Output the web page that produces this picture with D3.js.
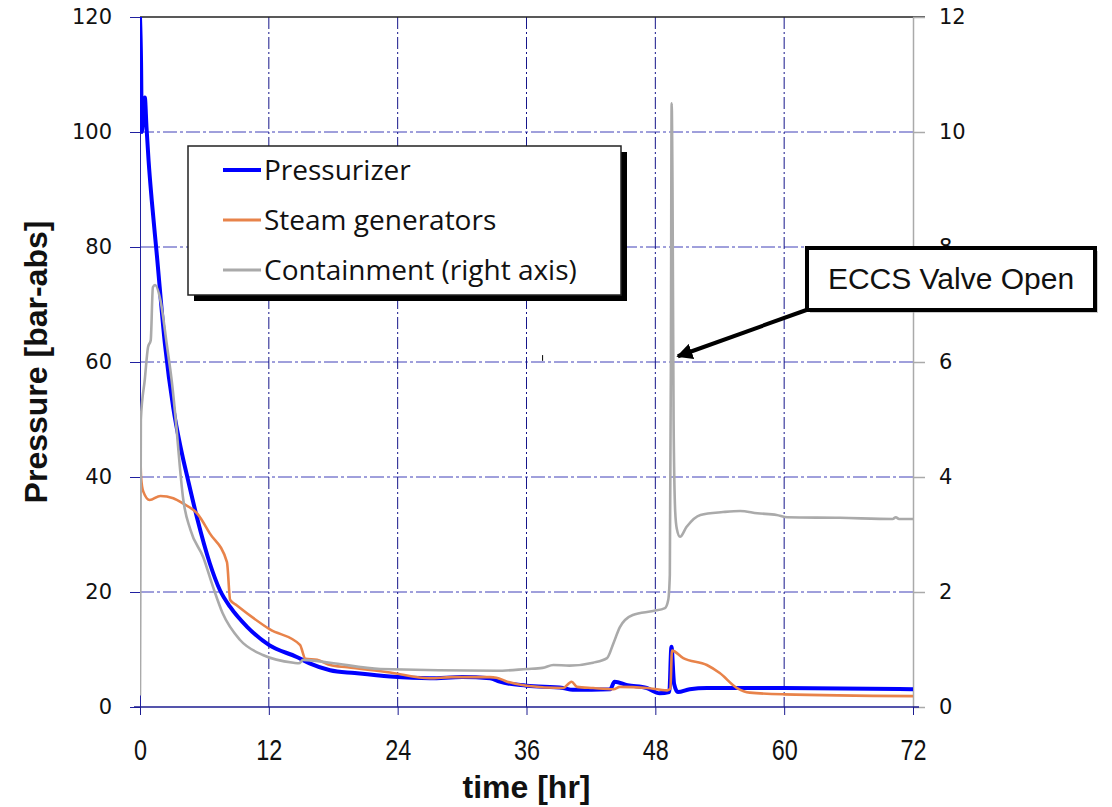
<!DOCTYPE html>
<html>
<head>
<meta charset="utf-8">
<script src="https://cdn.jsdelivr.net/npm/d3@7"></script>
<style>
  body { margin: 0; background: #fff; }
  svg { display: block; }
  .tick-l { font-family: "DejaVu Sans", sans-serif; font-size: 21px; fill: #111; }
  .tick-x { font-family: "Liberation Sans", Arial, sans-serif; font-size: 30px; fill: #111; }
  .title { font-family: "Liberation Sans", Arial, sans-serif; font-size: 32px; font-weight: bold; fill: #111; }
  .legend-text { font-family: "Open Sans", "Liberation Sans", sans-serif; font-size: 28px; fill: #111; }
  .note { font-family: "Liberation Sans", Arial, sans-serif; font-size: 30px; fill: #111; }
</style>
</head>
<body>
<svg id="chart"></svg>
<script>
// values: [time (hr), pressure]
const pressurizer = [
  [0, 120], [0.1, 112], [0.17, 100], [0.3, 103], [0.45, 106], [0.6, 101], [0.8, 95],
  [1.1, 88], [1.55, 79], [2.33, 63], [3.1, 52], [3.8, 45], [4.47, 39.5], [5.3, 33],
  [6.5, 25], [7.45, 20.3], [8.4, 17.4], [10, 13.9], [12, 10.8], [14.6, 8.7], [15.8, 7.6],
  [17.7, 6.4], [20, 5.9], [23.3, 5.3], [27, 5.0], [30, 5.2], [32.6, 5.0], [33.5, 4.4],
  [36, 3.7], [39.4, 3.3], [40.3, 3.0], [43.8, 3.1], [44.2, 4.4], [45.4, 3.8],
  [47.2, 3.3], [48.4, 2.4], [49.3, 2.6], [49.5, 10.5], [49.75, 4.0], [50.1, 2.6],
  [51.2, 3.1], [52.8, 3.3], [60, 3.3], [72, 3.1]
];

const steamGenerators = [
  [0, 48], [0.1, 40], [0.3, 37.5], [0.9, 36], [1.9, 36.7], [3.1, 36.3], [4.0, 35.4],
  [5.3, 33.7], [6.5, 30.2], [8.1, 25.2], [8.4, 18.6], [9.0, 17.7], [12.1, 13.5],
  [14.9, 10.8], [15.4, 8.4], [16.5, 8.2], [17.7, 7.3], [19.3, 6.9], [23.3, 6.0],
  [27, 5.0], [29, 5.2], [32.6, 5.2], [33.2, 5.1], [34.2, 4.4], [36, 3.7], [39.4, 3.3],
  [40.2, 4.4], [40.7, 3.5], [42.2, 3.3], [44.1, 3.1], [44.7, 3.5], [47.2, 3.3],
  [49.1, 2.9], [49.4, 3.2], [49.55, 9.8], [50.6, 8.5], [52.8, 7.3], [54, 5.9],
  [55.6, 3.3], [56.8, 2.5], [60, 2.2], [72, 1.9]
];

// containment, right axis
const containment = [
  [0, 0.2], [0.08, 5.0], [0.45, 5.7], [0.75, 6.26], [1.0, 6.38], [1.2, 7.3], [1.4, 7.34],
  [1.9, 7.08], [2.5, 6.3], [3.0, 5.6], [3.4, 4.85], [3.7, 4.2], [4.0, 3.65], [4.7, 3.08],
  [5.9, 2.6], [6.8, 2.09], [7.7, 1.63], [9.3, 1.17], [11.5, 0.9], [14.3, 0.77],
  [14.8, 0.76], [15.2, 0.82], [17.7, 0.77], [22.4, 0.66], [33.2, 0.63], [36, 0.66],
  [37.5, 0.68], [38.5, 0.73], [40, 0.72], [42.2, 0.77], [43.5, 0.85], [44.1, 1.11],
  [44.7, 1.39], [45.9, 1.6], [47.8, 1.67], [48.9, 1.72], [49.2, 1.86], [49.35, 2.3],
  [49.45, 6], [49.52, 10.5], [49.6, 9], [49.7, 5], [49.85, 3.4], [50.0, 3.1],
  [50.3, 2.96], [50.9, 3.13], [52.2, 3.34], [54.3, 3.39], [55.9, 3.41], [57.5, 3.37],
  [59.3, 3.34], [60.3, 3.3], [65.2, 3.29], [70.1, 3.27], [70.4, 3.3], [70.7, 3.27],
  [72, 3.27]
];

const xTicks = [0, 12, 24, 36, 48, 60, 72];
const yTicks = [0, 20, 40, 60, 80, 100, 120];
const yRightTicks = [0, 2, 4, 6, 8, 10, 12];

const legendItems = [
  {name: 'Pressurizer', color: '#0000ff', width: 4},
  {name: 'Steam generators', color: '#e8834a', width: 3},
  {name: 'Containment (right axis)', color: '#aaaaaa', width: 3}
];

const W = 1112, H = 807;
const margin = {top: 17, right: 199, bottom: 100, left: 140};
const width = W - margin.left - margin.right;
const height = H - margin.top - margin.bottom;

const svg = d3.select('#chart').attr('width', W).attr('height', H);

const x = d3.scaleLinear().domain([0, 72]).range([margin.left, margin.left + width]);
const y = d3.scaleLinear().domain([0, 120]).range([margin.top + height, margin.top]);
const yR = d3.scaleLinear().domain([0, 12]).range([margin.top + height, margin.top]);

svg.append('clipPath').attr('id', 'plot-clip')
  .append('rect')
    .attr('x', margin.left).attr('y', margin.top - 1)
    .attr('width', width).attr('height', height + 2);

// grid
svg.append('g')
  .selectAll('line')
  .data(yTicks.filter(d => d > 0 && d < 120))
  .join('line')
    .attr('x1', margin.left).attr('x2', margin.left + width)
    .attr('y1', d => y(d)).attr('y2', d => y(d))
    .attr('stroke', '#4040b8').attr('stroke-width', 1)
    .attr('stroke-dasharray', '14,3,3,3');

svg.append('g')
  .selectAll('line')
  .data(xTicks.filter(d => d > 0 && d < 72))
  .join('line')
    .attr('x1', d => x(d)).attr('x2', d => x(d))
    .attr('y1', margin.top).attr('y2', margin.top + height)
    .attr('stroke', '#16168a').attr('stroke-width', 1)
    .attr('stroke-dasharray', '12,3,2,3');

// top border
svg.append('line')
  .attr('x1', margin.left).attr('x2', margin.left + width + 12)
  .attr('y1', margin.top).attr('y2', margin.top)
  .attr('stroke', '#222').attr('stroke-width', 1.5);

// left axis
const leftAxis = svg.append('g')
  .attr('transform', `translate(${margin.left},0)`)
  .call(d3.axisLeft(y).tickValues(yTicks).tickSize(10).tickPadding(18).tickSizeOuter(0));
leftAxis.select('.domain').attr('stroke', '#2020a0');
leftAxis.selectAll('.tick line').attr('stroke', '#2020a0');
leftAxis.selectAll('.tick text').attr('class', 'tick-l').attr('font-family', null).attr('font-size', null);

// right axis
const rightAxis = svg.append('g')
  .attr('transform', `translate(${margin.left + width},0)`)
  .call(d3.axisRight(yR).tickValues(yRightTicks).tickSize(12).tickPadding(14).tickSizeOuter(0));
rightAxis.select('.domain').attr('stroke', '#aaaaaa').attr('stroke-width', 1.5);
rightAxis.selectAll('.tick line').attr('stroke', '#aaaaaa').attr('stroke-width', 1.5);
rightAxis.selectAll('.tick text').attr('class', 'tick-l').attr('font-family', null).attr('font-size', null);

// bottom axis, narrow tall digits
const bottomAxis = svg.append('g')
  .attr('transform', `translate(0,${margin.top + height})`)
  .call(d3.axisBottom(x).tickValues(xTicks).tickSize(8).tickPadding(18).tickSizeOuter(0));
bottomAxis.select('.domain').attr('stroke', '#1c1c90').attr('stroke-width', 1.5)
  .attr('d', `M${margin.left - 6},0H${margin.left + width + 6}`);
bottomAxis.selectAll('.tick line').attr('stroke', '#1c1c90');
bottomAxis.selectAll('.tick text').attr('class', 'tick-x').attr('font-family', null).attr('font-size', null)
  .attr('dy', '0.9em')
  .attr('transform', 'scale(0.78,1)');

// series
const line = d3.line().x(d => x(d[0])).y(d => y(d[1])).curve(d3.curveMonotoneX);
const lineR = d3.line().x(d => x(d[0])).y(d => yR(d[1])).curve(d3.curveMonotoneX);

const plot = svg.append('g').attr('clip-path', 'url(#plot-clip)');

plot.append('path').datum(pressurizer)
  .attr('d', line).attr('fill', 'none')
  .attr('stroke', legendItems[0].color).attr('stroke-width', 4).attr('stroke-linejoin', 'round');

plot.append('path').datum(steamGenerators)
  .attr('d', line).attr('fill', 'none')
  .attr('stroke', legendItems[1].color).attr('stroke-width', 2.6).attr('stroke-linejoin', 'round');

plot.append('path').datum(containment)
  .attr('d', lineR).attr('fill', 'none')
  .attr('stroke', legendItems[2].color).attr('stroke-width', 2.6).attr('stroke-linejoin', 'round');

// stray tick mark in the plot
svg.append('line')
  .attr('x1', x(37.5)).attr('x2', x(37.5))
  .attr('y1', y(61.2)).attr('y2', y(60.2))
  .attr('stroke', '#000').attr('stroke-width', 1);

// axis titles
svg.append('text')
  .attr('class', 'title')
  .attr('x', margin.left + width / 2)
  .attr('y', 798)
  .attr('text-anchor', 'middle')
  .text('time [hr]');

svg.append('text')
  .attr('class', 'title')
  .attr('transform', `translate(47,${margin.top + height / 2}) rotate(-90)`)
  .attr('text-anchor', 'middle')
  .text('Pressure [bar-abs]');

// legend
const legend = svg.append('g').attr('transform', 'translate(188,146)');
legend.append('rect')
  .attr('x', 6).attr('y', 6).attr('width', 433).attr('height', 149)
  .attr('fill', '#000');
legend.append('rect')
  .attr('width', 433).attr('height', 149)
  .attr('fill', '#fff').attr('stroke', '#222').attr('stroke-width', 1.5);

const entries = legend.selectAll('.entry')
  .data(legendItems)
  .join('g')
    .attr('class', 'entry')
    .attr('transform', (d, i) => `translate(35,${24 + i * 50})`);
entries.append('line')
  .attr('x1', 0).attr('x2', 38)
  .attr('stroke', d => d.color).attr('stroke-width', d => d.width);
entries.append('text')
  .attr('class', 'legend-text')
  .attr('x', 41).attr('y', 10)
  .text(d => d.name);

// ECCS annotation
const defs = svg.append('defs');
defs.append('marker')
  .attr('id', 'arrow')
  .attr('viewBox', '0 0 10 10')
  .attr('refX', 9).attr('refY', 5)
  .attr('markerWidth', 4).attr('markerHeight', 4)
  .attr('orient', 'auto')
  .append('path').attr('d', 'M0,0L10,5L0,10z').attr('fill', '#000');

svg.append('line')
  .attr('x1', 812).attr('y1', 308)
  .attr('x2', x(50.1)).attr('y2', yR(6.1))
  .attr('stroke', '#000').attr('stroke-width', 4)
  .attr('marker-end', 'url(#arrow)');

svg.append('rect')
  .attr('x', 810).attr('y', 251).attr('width', 288).attr('height', 62)
  .attr('fill', '#999').attr('opacity', 0.5);
svg.append('rect')
  .attr('x', 807).attr('y', 248).attr('width', 288).attr('height', 62)
  .attr('fill', '#fff').attr('stroke', '#000').attr('stroke-width', 4);
svg.append('text')
  .attr('class', 'note')
  .attr('x', 951).attr('y', 289)
  .attr('text-anchor', 'middle')
  .text('ECCS Valve Open');
</script>
</body>
</html>
